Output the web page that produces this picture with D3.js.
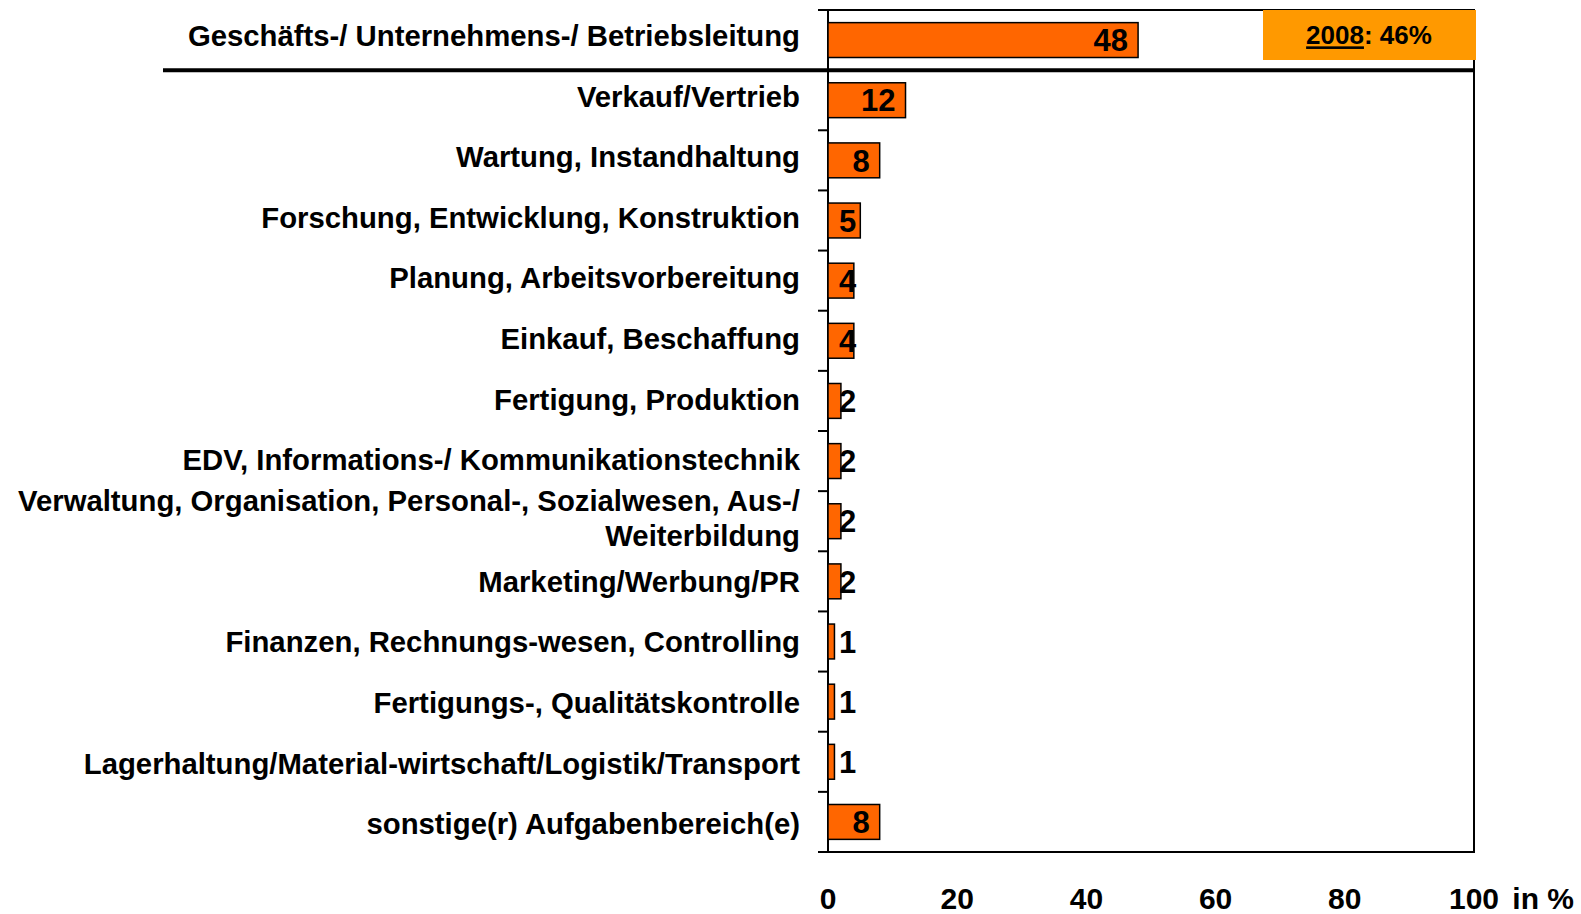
<!DOCTYPE html>
<html lang="de">
<head>
  <meta charset="UTF-8" />
  <title>Aufgabenbereiche</title>
  <style>
    body {
      margin: 0;
      background: #fff;
      font-family: 'Liberation Sans', Arial, sans-serif;
    }
    svg text {
      font-weight: bold;
      fill: #000;
    }
  </style>
</head>
<body>
  <div id="chart"></div>

  <script src="https://d3js.org/d3.v7.min.js"></script>
  <script>
    const categories = [
      "Geschäfts-/ Unternehmens-/ Betriebsleitung",
      "Verkauf/Vertrieb",
      "Wartung, Instandhaltung",
      "Forschung, Entwicklung, Konstruktion",
      "Planung, Arbeitsvorbereitung",
      "Einkauf, Beschaffung",
      "Fertigung, Produktion",
      "EDV, Informations-/ Kommunikationstechnik",
      "Verwaltung, Organisation, Personal-, Sozialwesen, Aus-/|Weiterbildung",
      "Marketing/Werbung/PR",
      "Finanzen, Rechnungs-wesen, Controlling",
      "Fertigungs-, Qualitätskontrolle",
      "Lagerhaltung/Material-wirtschaft/Logistik/Transport",
      "sonstige(r) Aufgabenbereich(e)"
    ];
    const values = [48, 12, 8, 5, 4, 4, 2, 2, 2, 2, 1, 1, 1, 8];
    const xTicks = [0, 20, 40, 60, 80, 100];
    const compareYear = "2008";
    const compareValue = "46%";

    const width = 1581, height = 914;
    const mLeft = 828, mRight = 1474, mTop = 10, mBottom = 852;

    const svg = d3.select("#chart").append("svg")
      .attr("width", width)
      .attr("height", height);

    const x = d3.scaleLinear().domain([0, 100]).range([mLeft, mRight]);
    const y = d3.scaleBand().domain(d3.range(categories.length))
      .range([mTop, mBottom]).paddingInner(0.42).paddingOuter(0.21);
    const band = d3.scaleBand().domain(d3.range(categories.length)).range([mTop, mBottom]);
    // labels sit on a slightly wider spacing than the bars
    const labelBand = d3.scaleBand().domain(d3.range(categories.length)).range([5, 854]);

    // plot frame
    svg.append("rect")
      .attr("x", mLeft).attr("y", mTop)
      .attr("width", mRight - mLeft).attr("height", mBottom - mTop)
      .attr("fill", "none").attr("stroke", "#000").attr("stroke-width", 2);

    // category ticks on the left of the axis
    svg.selectAll(".tick-mark")
      .data(d3.range(categories.length + 1))
      .enter().append("line")
      .attr("x1", mLeft - 10).attr("x2", mLeft)
      .attr("y1", i => mTop + i * band.step())
      .attr("y2", i => mTop + i * band.step())
      .attr("stroke", "#000").attr("stroke-width", 2);

    // separator under first category
    svg.append("line")
      .attr("x1", 163).attr("x2", mRight)
      .attr("y1", mTop + band.step()).attr("y2", mTop + band.step())
      .attr("stroke", "#000").attr("stroke-width", 4);

    // bars
    svg.selectAll(".bar")
      .data(values)
      .enter().append("rect")
      .attr("x", x(0))
      .attr("y", (d, i) => y(i))
      .attr("width", d => x(d) - x(0))
      .attr("height", y.bandwidth())
      .attr("fill", "#FF6600")
      .attr("stroke", "#000")
      .attr("stroke-width", 1.5);

    // value labels
    const vl = svg.selectAll(".val")
      .data(values)
      .enter().append("text")
      .attr("y", (d, i) => y(i) + y.bandwidth() / 2)
      .attr("dy", "0.36em")
      .attr("text-anchor", "end")
      .style("font-size", "31px")
      .text(d => d);
    vl.each(function (d) {
      const w = this.getComputedTextLength();
      d3.select(this).attr("x", Math.max(x(d) - 10, x(0) + 11 + w));
    });

    // category labels
    categories.forEach((c, i) => {
      const lines = c.split("|");
      const cy = labelBand(i) + labelBand.step() / 2 - (lines.length > 1 ? 3 : 0);
      const lh = 35;
      lines.forEach((ln, j) => {
        svg.append("text")
          .attr("x", 800)
          .attr("y", cy + (j - (lines.length - 1) / 2) * lh)
          .attr("dy", "0.36em")
          .attr("text-anchor", "end")
          .style("font-size", "29.3px")
          .text(ln);
      });
    });

    // x axis labels
    svg.selectAll(".xt")
      .data(xTicks)
      .enter().append("text")
      .attr("x", d => x(d))
      .attr("y", 909)
      .attr("text-anchor", "middle")
      .style("font-size", "30px")
      .text(d => d);
    svg.append("text")
      .attr("x", 1574).attr("y", 909)
      .attr("text-anchor", "end")
      .style("font-size", "30px")
      .text("in %");

    // 2008 comparison box
    svg.append("rect")
      .attr("x", 1263).attr("y", mTop)
      .attr("width", 213).attr("height", 50)
      .attr("fill", "#FF9900");
    const cmp = svg.append("text")
      .attr("x", 1369).attr("y", 35)
      .attr("dy", "0.36em")
      .attr("text-anchor", "middle")
      .style("font-size", "26px");
    cmp.append("tspan").style("text-decoration", "underline").text(compareYear);
    cmp.append("tspan").text(": " + compareValue);
  </script>
</body>
</html>
